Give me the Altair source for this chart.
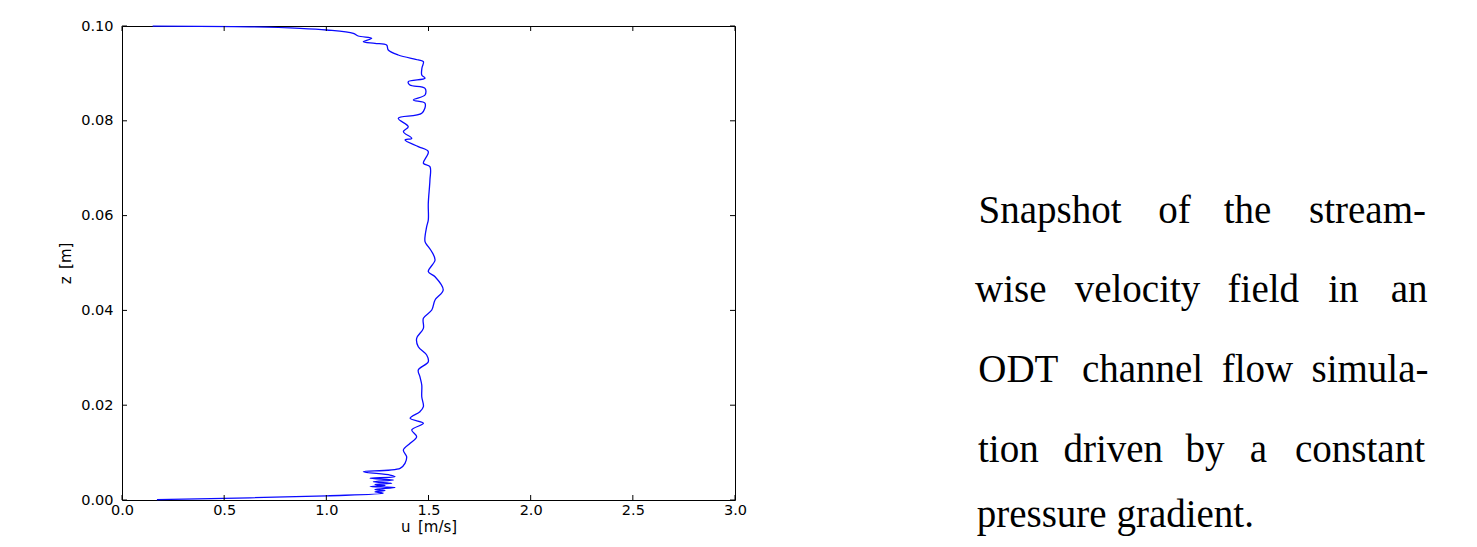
import altair as alt
import pandas as pd

# ---- data ----
z_vals = [0.0001, 0.00046, 0.00089, 0.00141, 0.00175, 0.00200, 0.00222, 0.00264, 0.00285, 0.00306,
          0.00327, 0.00352, 0.00386, 0.00422, 0.00458, 0.00492, 0.00527, 0.00597, 0.00669, 0.00774,
          0.00914, 0.01055, 0.01196, 0.01335, 0.01477, 0.01618, 0.01724, 0.01863, 0.01968, 0.02179,
          0.02426, 0.02601, 0.02743, 0.02918, 0.03059, 0.03234, 0.03411, 0.03622, 0.03833, 0.04008,
          0.04219, 0.04430, 0.04711, 0.04816, 0.05063, 0.05238, 0.05344, 0.05449, 0.05766, 0.05907,
          0.06259, 0.06751, 0.07032, 0.07103, 0.07348, 0.07454, 0.07595, 0.07631, 0.07770, 0.07876,
          0.08053, 0.08158, 0.08369, 0.08439, 0.08544, 0.08686, 0.08755, 0.08825, 0.08897, 0.08966,
          0.09114, 0.09247, 0.09283, 0.09388, 0.09494, 0.09599, 0.09635, 0.09669, 0.09741, 0.09789,
          0.09846, 0.09916, 0.09951, 0.09983, 0.09998]
u_vals = [0.171, 0.626, 1.002, 1.279, 1.238, 1.287, 1.238, 1.336, 1.214, 1.287,
          1.238, 1.320, 1.230, 1.328, 1.214, 1.336, 1.312, 1.181, 1.361, 1.385,
          1.393, 1.377, 1.410, 1.442, 1.418, 1.475, 1.410, 1.458, 1.475, 1.467,
          1.467, 1.458, 1.450, 1.499, 1.491, 1.450, 1.442, 1.475, 1.475, 1.516,
          1.532, 1.572, 1.532, 1.499, 1.532, 1.516, 1.499, 1.483, 1.491, 1.499,
          1.499, 1.507, 1.507, 1.475, 1.499, 1.450, 1.385, 1.418, 1.377, 1.401,
          1.352, 1.467, 1.483, 1.426, 1.483, 1.483, 1.409, 1.401, 1.483, 1.467,
          1.468, 1.475, 1.450, 1.352, 1.303, 1.295, 1.238, 1.181, 1.222, 1.156,
          1.132, 1.002, 0.871, 0.626, 0.150]
x_ticks = [0.0, 0.5, 1.0, 1.5, 2.0, 2.5, 3.0]
y_ticks = [0.00, 0.02, 0.04, 0.06, 0.08, 0.10]
caption_lines = [
    ["Snapshot", "of", "the", "stream-"],
    ["wise", "velocity", "field", "in", "an"],
    ["ODT", "channel", "flow", "simula-"],
    ["tion", "driven", "by", "a", "constant"],
    ["pressure gradient."],
]

# ---- layout (pixels relative to plot area) ----
W, H = 613, 474
TICK = 5
caption_x = [
    [928, 1052.5, 1125.5, 1245.5],
    [888.8, 1015.5, 1141.3, 1221.3, 1287.2],
    [896.3, 1020.5, 1135.5, 1248],
    [886.3, 991.3, 1083, 1136.3, 1238],
    [854.7],
]
caption_y = [197.3, 275.7, 355.7, 435.7, 501]

df = pd.DataFrame({"u": u_vals, "z": z_vals, "i": list(range(len(u_vals)))})
xdf = pd.DataFrame({"t": x_ticks})
ydf = pd.DataFrame({"t": y_ticks})

xscale = alt.Scale(domain=[0, 3], nice=False, zero=False)
yscale = alt.Scale(domain=[0, 0.1], nice=False, zero=False)

axis_style = dict(ticks=False, grid=False, domain=False, labelFlush=False,
                  labelFont="DejaVu Sans", labelFontSize=14.5, labelColor="black",
                  titleFont="DejaVu Sans", titleFontSize=15, titleFontWeight="normal",
                  titleColor="black")
x_axis = alt.Axis(values=x_ticks, format=".1f", title="u\u2002[m/s]",
                  labelPadding=3, titlePadding=3, **axis_style)
y_axis = alt.Axis(values=y_ticks, format=".2f", title="z\u2002[m]",
                  labelPadding=9, titlePadding=7, **axis_style)

line = alt.Chart(df).mark_line(color="#0a0aff", strokeWidth=1.3,
                               interpolate="catmull-rom").encode(
    x=alt.X("u:Q", scale=xscale, axis=x_axis),
    y=alt.Y("z:Q", scale=yscale, axis=y_axis),
    order="i:Q",
)

xt_bottom = alt.Chart(xdf).mark_rule(color="black", strokeWidth=1).encode(
    x=alt.X("t:Q", scale=xscale, axis=x_axis), y=alt.value(H), y2=alt.value(H - TICK))
xt_top = alt.Chart(xdf).mark_rule(color="black", strokeWidth=1).encode(
    x=alt.X("t:Q", scale=xscale, axis=x_axis), y=alt.value(0), y2=alt.value(TICK))
yt_left = alt.Chart(ydf).mark_rule(color="black", strokeWidth=1).encode(
    y=alt.Y("t:Q", scale=yscale, axis=y_axis), x=alt.value(0), x2=alt.value(TICK))
yt_right = alt.Chart(ydf).mark_rule(color="black", strokeWidth=1).encode(
    y=alt.Y("t:Q", scale=yscale, axis=y_axis), x=alt.value(W), x2=alt.value(W - TICK))

layers = [line, xt_bottom, xt_top, yt_left, yt_right]

for li, words in enumerate(caption_lines):
    for wi, w in enumerate(words):
        align = "left" if li == len(caption_lines) - 1 else "center"
        layers.append(
            alt.Chart(xdf.head(1)).mark_text(
                text=w, font="Liberation Serif", fontSize=39, color="black",
                align=align, baseline="alphabetic",
            ).encode(x=alt.value(caption_x[li][wi]), y=alt.value(caption_y[li]))
        )

chart = alt.layer(*layers).properties(
    width=W, height=H,
    padding={"left": 114, "top": 18, "right": 726, "bottom": 36},
    autosize=alt.AutoSizeParams(type="none"),
).configure(background="white").configure_view(stroke="black", strokeWidth=1)

chart.save("out.html", embed_options={"renderer": "svg", "actions": False})
